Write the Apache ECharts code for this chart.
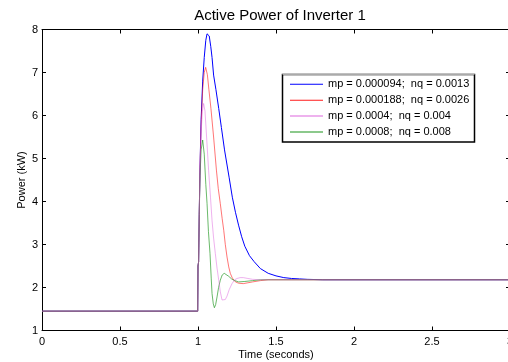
<!DOCTYPE html>
<html>
<head>
<meta charset="utf-8">
<script src="https://cdn.jsdelivr.net/npm/echarts@6/dist/echarts.min.js"></script>
<style>html,body{margin:0;padding:0;background:#fff;}#c{width:508px;height:362px;}</style>
</head>
<body>
<div id="c"></div>
<script>
var titleText = 'Active Power of Inverter 1';
var xName = 'Time (seconds)';
var yName = 'Power (kW)';
var xTicks = [0, 0.5, 1, 1.5, 2, 2.5, 3];
var yTicks = [1, 2, 3, 4, 5, 6, 7, 8];
var seriesNames = ['mp = 0.000094;  nq = 0.0013', 'mp = 0.000188;  nq = 0.0026', 'mp = 0.0004;  nq = 0.004', 'mp = 0.0008;  nq = 0.008'];

var blueT = [0, 0.998, 1.0, 1.004, 1.008, 1.013, 1.02, 1.03, 1.04, 1.05, 1.058, 1.064, 1.072, 1.082, 1.09, 1.1, 1.115, 1.133, 1.15, 1.17, 1.2, 1.22, 1.24, 1.26, 1.28, 1.3, 1.33, 1.36, 1.4, 1.45, 1.5, 1.55, 1.6, 1.65, 1.7, 1.8, 3.0];
var blueP = [1.45, 1.45, 2.5, 2.6, 3.7, 4.8, 5.9, 6.8, 7.35, 7.75, 7.9, 7.93, 7.85, 7.6, 7.35, 6.94, 6.6, 6.16, 5.72, 5.2, 4.55, 4.1, 3.75, 3.45, 3.18, 2.96, 2.74, 2.6, 2.44, 2.33, 2.27, 2.23, 2.21, 2.2, 2.19, 2.18, 2.18];

var redT = [0, 0.998, 1.0, 1.004, 1.008, 1.013, 1.02, 1.03, 1.04, 1.049, 1.06, 1.07, 1.083, 1.1, 1.118, 1.13, 1.143, 1.155, 1.165, 1.175, 1.186, 1.197, 1.207, 1.22, 1.24, 1.26, 1.29, 1.32, 1.35, 1.4, 1.45, 3.0];
var redP = [1.45, 1.45, 2.5, 2.6, 3.7, 4.8, 5.8, 6.6, 7.0, 7.12, 6.95, 6.6, 6.16, 5.5, 4.73, 4.3, 3.95, 3.6, 3.33, 3.0, 2.71, 2.48, 2.33, 2.22, 2.13, 2.1, 2.09, 2.11, 2.13, 2.16, 2.18, 2.18];

var pinkT = [0, 0.998, 1.0, 1.004, 1.008, 1.013, 1.02, 1.028, 1.036, 1.045, 1.055, 1.068, 1.08, 1.09, 1.1, 1.111, 1.122, 1.133, 1.143, 1.154, 1.165, 1.175, 1.186, 1.2, 1.218, 1.235, 1.25, 1.27, 1.29, 1.32, 1.35, 1.4, 3.0];
var pinkP = [1.45, 1.45, 2.5, 2.6, 3.7, 4.8, 5.6, 6.1, 6.28, 6.1, 5.5, 4.73, 4.1, 3.56, 3.15, 2.79, 2.45, 2.17, 1.9, 1.71, 1.69, 1.72, 1.8, 1.95, 2.09, 2.18, 2.21, 2.23, 2.23, 2.21, 2.19, 2.18, 2.18];

var greenT = [0, 0.998, 1.0, 1.004, 1.008, 1.013, 1.02, 1.03, 1.04, 1.05, 1.058, 1.067, 1.077, 1.085, 1.09, 1.098, 1.105, 1.113, 1.122, 1.132, 1.143, 1.155, 1.168, 1.18, 1.197, 1.215, 1.229, 1.26, 1.3, 1.35, 1.4, 3.0];
var greenP = [1.45, 1.45, 2.5, 2.6, 3.7, 4.6, 5.2, 5.43, 5.1, 4.4, 3.95, 3.3, 2.79, 2.2, 1.86, 1.62, 1.53, 1.6, 1.78, 2.0, 2.17, 2.29, 2.33, 2.31, 2.26, 2.2, 2.17, 2.13, 2.14, 2.16, 2.18, 2.18];

function pairs(t, p) { return t.map(function (v, i) { return [v, p[i]]; }); }

var FONT = 'Liberation Sans, Arial, sans-serif';
var chart = echarts.init(document.getElementById('c'), null, {renderer: 'canvas'});

function mkSeries(name, t, p, color, op) {
  return {
    name: name, type: 'line', data: pairs(t, p), showSymbol: false, symbol: 'none',
    smooth: false, animation: false, sampling: null,
    lineStyle: {color: color, width: 1, opacity: op},
    itemStyle: {color: color},
    emphasis: {disabled: true}
  };
}

var axisCommon = {
  type: 'value', min: 0, max: 3, interval: 0.5,
  axisLine: {show: true, onZero: false, lineStyle: {color: '#000', width: 1}},
  axisTick: {show: true, inside: true, length: 4, lineStyle: {color: '#000'}},
  splitLine: {show: false}
};

chart.setOption({
  animation: false,
  backgroundColor: '#fff',
  title: {text: titleText, left: 275, top: 3, textAlign: 'center',
    textStyle: {fontFamily: FONT, fontSize: 15, fontWeight: 'normal', color: '#000'}},
  grid: {left: 42, top: 29.5, width: 468, height: 301, containLabel: false, outerBoundsMode: 'none'},
  graphic: [
    {type: 'rect', z: 5, silent: true,
     shape: {x: 282.5, y: 74.5, width: 192, height: 67.5},
     style: {fill: '#fff', stroke: '#000', lineWidth: 1.5}},
    {type: 'line', z: 6, silent: true,
     shape: {x1: 282.5, y1: 74.5, x2: 474.5, y2: 74.5},
     style: {stroke: '#aaa', lineWidth: 1}}
  ],
  legend: {
    data: seriesNames, orient: 'vertical', left: 290, top: 78.3, z: 10,
    icon: 'rect', itemWidth: 33, itemHeight: 1, itemGap: 3.9,
    padding: 0,
    textStyle: {fontFamily: FONT, fontSize: 11, color: '#000', lineHeight: 12},
    selectedMode: false
  },
  xAxis: [
    Object.assign({}, axisCommon, {
      position: 'bottom', name: xName, nameLocation: 'middle', nameGap: 19, nameMoveOverlap: false,
      nameTextStyle: {fontFamily: FONT, fontSize: 11, color: '#000'},
      axisLabel: {show: true, margin: 6, fontFamily: FONT, fontSize: 11, color: '#000',
        formatter: function (v) { return xTicks.indexOf(v) >= 0 ? String(v) : ''; }}
    }),
    Object.assign({}, axisCommon, {position: 'top', axisLabel: {show: false}})
  ],
  yAxis: [
    Object.assign({}, axisCommon, {
      min: yTicks[0], max: yTicks[yTicks.length - 1], interval: 1, position: 'left',
      name: yName, nameLocation: 'middle', nameGap: 15, nameMoveOverlap: false,
      nameTextStyle: {fontFamily: FONT, fontSize: 11, color: '#000'},
      axisLabel: {show: true, margin: 4, fontFamily: FONT, fontSize: 11, color: '#000'}
    }),
    Object.assign({}, axisCommon, {
      min: yTicks[0], max: yTicks[yTicks.length - 1], interval: 1, position: 'right',
      axisLabel: {show: false}
    })
  ],
  series: [
    mkSeries(seriesNames[0], blueT, blueP, '#0000ff', 1),
    mkSeries(seriesNames[1], redT, redP, '#ff1a1a', 0.6),
    mkSeries(seriesNames[3], greenT, greenP, '#1a931a', 0.65),
    mkSeries(seriesNames[2], pinkT, pinkP, '#dd66dd', 0.5)
  ]
});
</script>
</body>
</html>
